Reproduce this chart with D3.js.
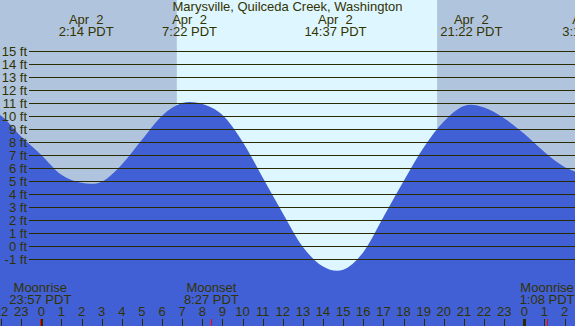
<!DOCTYPE html>
<html>
<head>
<meta charset="utf-8">
<script src="https://cdn.jsdelivr.net/npm/d3@7"></script>
<style>
  html, body { margin: 0; padding: 0; overflow: hidden; background: #fff; }
  svg { display: block; }
  text { font-family: "Liberation Sans", Arial, sans-serif; fill: #333300; white-space: pre; }
</style>
</head>
<body>
<div class="app"></div>
<script>
// Data
const title = 'Marysville, Quilceda Creek, Washington';

// tide height (ft) at each hour of Apr 2 (negative = Apr 1, >23 = Apr 3)
const hours = [-3, -2, -1, 0, 1, 2, 3, 4, 5, 6, 7, 8, 9, 10, 11, 12, 13, 14, 15, 16, 17, 18, 19, 20, 21, 22, 23, 24, 25, 26, 27];
const tideFeet = [10.7, 10.05, 8.45, 7.03, 5.5, 4.88, 4.97, 6.3, 8.2, 10.05, 11.02, 10.95, 10.1, 8.05, 5.3, 2.55, -0.05, -1.55, -1.8, -0.45, 2.25, 5.0, 7.6, 9.6, 10.8, 10.68, 9.85, 8.65, 7.25, 6.1, 5.5];

// high / low tide labels along the top
const extremeDates = ['Apr  2', 'Apr  2', 'Apr  2', 'Apr  2', 'Apr  3'];
const extremeTimes = ['2:14', '7:22', '14:37', '21:22', '3:15'];
const extremeDays = [0, 0, 0, 0, 1];

// moon events along the bottom
const moonEvents = ['Moonrise', 'Moonset', 'Moonrise'];
const moonTimes = ['23:57', '8:27', '1:08'];
const moonDays = [-1, 0, 1];

// daylight
const sunrise = '6:44';
const sunset = '19:40';

const feetTicks = [-1, 0, 1, 2, 3, 4, 5, 6, 7, 8, 9, 10, 11, 12, 13, 14, 15];
const hourTicks = [-2, -1, 0, 1, 2, 3, 4, 5, 6, 7, 8, 9, 10, 11, 12, 13, 14, 15, 16, 17, 18, 19, 20, 21, 22, 23, 24, 25, 26];


// Setup
const width = 575;
const height = 326;

const svg = d3.select('.app')
  .append('svg')
  .attr('width', width)
  .attr('height', height)
  .attr('viewBox', [0, 0, width, height]);

const toHour = (str, day) => {
  const [h, m] = str.split(':').map(Number);
  return day * 24 + h + m / 60;
};

const x = d3.scaleLinear().domain([0, 24]).range([41.3, 524.3]);
const y = d3.scaleLinear().domain([-1, 15]).range([259.3, 51.3]);

// Night / day background
svg.append('rect')
  .attr('width', width)
  .attr('height', height)
  .attr('fill', '#b0c4de');

svg.append('rect')
  .attr('x', x(toHour(sunrise, 0)))
  .attr('width', x(toHour(sunset, 0)) - x(toHour(sunrise, 0)))
  .attr('height', height)
  .attr('fill', '#ddf6ff');

// Tide
const tide = hours.map((h, i) => ({ h, ft: tideFeet[i] }));

svg.append('path')
  .datum(tide)
  .attr('fill', '#4160d6')
  .attr('d', d3.area()
    .x(d => x(d.h))
    .y0(height)
    .y1(d => y(d.ft))
    .curve(d3.curveCardinal.tension(0))
  );

// Grid + feet labels
const gGrid = svg.append('g');

gGrid.selectAll('line')
  .data(feetTicks)
  .join('line')
  .attr('x1', 29)
  .attr('x2', width)
  .attr('y1', d => Math.round(y(d)) + 0.5)
  .attr('y2', d => Math.round(y(d)) + 0.5)
  .attr('stroke', '#2b2b00')
  .attr('stroke-width', 1);

gGrid.selectAll('text')
  .data(feetTicks)
  .join('text')
  .attr('x', 27)
  .attr('y', d => y(d))
  .attr('dy', '0.36em')
  .attr('text-anchor', 'end')
  .attr('font-size', 13)
  .text(d => `${d} ft`);

// Title and tide extremes
svg.append('text')
  .attr('x', width / 2)
  .attr('y', 11)
  .attr('text-anchor', 'middle')
  .attr('font-size', 13)
  .text(title);

const gTop = svg.append('g')
  .attr('font-size', 13)
  .attr('text-anchor', 'middle');

extremeTimes.forEach((t, i) => {
  const cx = x(toHour(t, extremeDays[i]));
  gTop.append('text').attr('x', cx).attr('y', 23.5)
    .attr('xml:space', 'preserve').text(extremeDates[i]);
  gTop.append('text').attr('x', cx).attr('y', 35.5).text(`${t} PDT`);
});

// Bottom axis: hours
const gAxis = svg.append('g');

gAxis.selectAll('text')
  .data(hourTicks)
  .join('text')
  .attr('x', d => x(d))
  .attr('y', 316)
  .attr('text-anchor', 'middle')
  .attr('font-size', 13)
  .text(d => ((d % 24) + 24) % 24);

gAxis.selectAll('line')
  .data(hourTicks)
  .join('line')
  .attr('x1', d => Math.round(x(d)) + 0.5)
  .attr('x2', d => Math.round(x(d)) + 0.5)
  .attr('y1', 319)
  .attr('y2', height)
  .attr('stroke', '#2b2b00')
  .attr('stroke-width', d => d % 24 === 0 ? 3 : 1);

// Moon events
const gMoon = svg.append('g')
  .attr('font-size', 13)
  .attr('text-anchor', 'middle');

moonTimes.forEach((t, i) => {
  const cx = x(toHour(t, moonDays[i]));
  gMoon.append('text').attr('x', cx).attr('y', 291.5).text(moonEvents[i]);
  gMoon.append('text').attr('x', cx).attr('y', 303.5).text(`${t} PDT`);
  gMoon.append('line')
    .attr('x1', Math.round(cx) + 0.5)
    .attr('x2', Math.round(cx) + 0.5)
    .attr('y1', 319)
    .attr('y2', height)
    .attr('stroke', '#ff0000');
});
</script>
</body>
</html>
